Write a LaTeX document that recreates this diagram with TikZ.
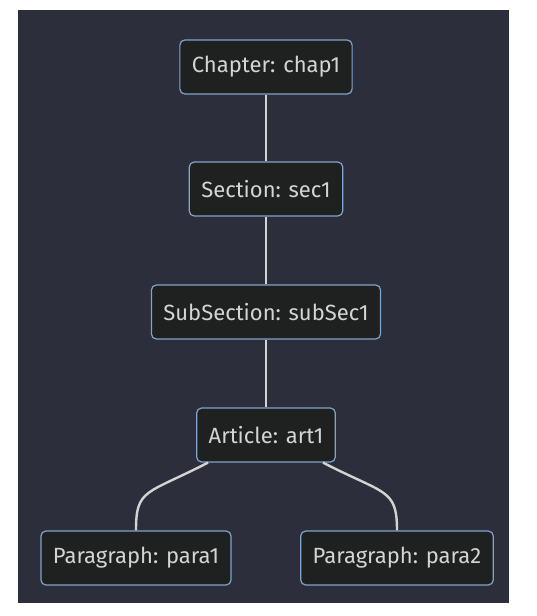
\documentclass[tikz,border=0pt]{standalone}
\usepackage{fontspec}
\setmainfont{Fira Sans}
\usetikzlibrary{calc}
\definecolor{page}{HTML}{FFFFFF}
\definecolor{canvas}{HTML}{2C2F3B}
\definecolor{boxfill}{HTML}{1F2020}
\definecolor{boxline}{HTML}{81A4CC}
\definecolor{label}{HTML}{D4D4D4}
\definecolor{link}{HTML}{D3D3D3}

\begin{document}
\begin{tikzpicture}[
  x=1pt, y=-1pt,
  font=\fontsize{22}{26}\selectfont,
  unit/.style={draw=boxline, line width=1.2pt, fill=boxfill, text=label,
    rounded corners=5pt, minimum height=54pt, inner xsep=12pt},
  tie/.style={draw=link, line width=2.4pt},
]
\useasboundingbox (0,0) rectangle (536,616);
\fill[page] (0,0) rectangle (536,616);
\fill[canvas] (18,10) rectangle (509,603);
% --- hierarchy, top to bottom ---
\node[unit] (chap)   at (266,67)  {Chapter: chap1};
\node[unit] (sec)    at (266,189) {Section: sec1};
\node[unit] (subsec) at (266,312) {SubSection: subSec1};
\node[unit] (art)    at (266,435) {Article: art1};
\node[unit] (paraA)  at (136,558) {Paragraph: para1};
\node[unit] (paraB)  at (397,558) {Paragraph: para2};
% --- straight links ---
\draw[tie] (chap) -- (sec);
\draw[tie] (sec) -- (subsec);
\draw[tie] (subsec) -- (art);
% --- the article splits into two paragraphs ---
\draw[tie] ([xshift=-58pt]art.south) .. controls +(-62,32) and +(0,-42) .. (paraA.north);
\draw[tie] ([xshift=57pt]art.south) .. controls +(62,32) and +(0,-42) .. (paraB.north);
\end{tikzpicture}
\end{document}
